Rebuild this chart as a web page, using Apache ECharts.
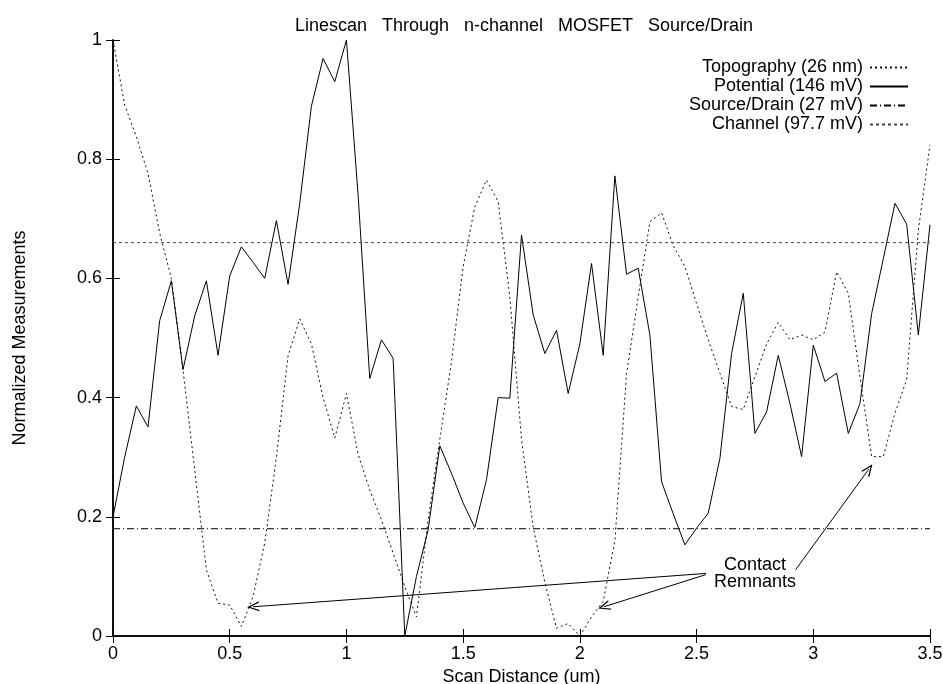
<!DOCTYPE html>
<html lang="en">

<head>
    <meta charset="UTF-8">
    <title>Linescan Through n-channel MOSFET Source/Drain</title>
    <style>
        html, body {
            margin: 0;
            padding: 0;
            background: #ffffff;
        }

        #chart {
            width: 943px;
            height: 684px;
        }
    </style>
</head>

<body>
    <div id="chart"></div>
    <script src="https://cdn.jsdelivr.net/npm/echarts@6/dist/echarts.min.js"></script>
    <script>
        // scan step is 0.05 um, 71 samples from 0 to 3.5
        const scanStep = 0.05;

        const topography = [
            1.0, 0.891, 0.838, 0.776, 0.676, 0.60, 0.446, 0.279, 0.111, 0.055,
            0.052, 0.016, 0.066, 0.156, 0.30, 0.47, 0.532, 0.49, 0.40, 0.332,
            0.407, 0.305, 0.245, 0.195, 0.139, 0.083, 0.032, 0.195, 0.33, 0.46,
            0.62, 0.72, 0.765, 0.729, 0.569, 0.33, 0.183, 0.09, 0.013, 0.021,
            0.0, 0.032, 0.058, 0.16, 0.44, 0.569, 0.695, 0.71, 0.655, 0.62,
            0.558, 0.497, 0.441, 0.385, 0.38, 0.435, 0.49, 0.526, 0.497, 0.505,
            0.497, 0.51, 0.611, 0.575, 0.435, 0.301, 0.301, 0.374, 0.43, 0.681,
            0.824
        ];

        const potential = [
            0.20, 0.30, 0.386, 0.351, 0.529, 0.596, 0.447, 0.537, 0.596, 0.471,
            0.604, 0.653, 0.627, 0.60, 0.697, 0.59, 0.726, 0.889, 0.969, 0.93,
            1.0, 0.74, 0.432, 0.497, 0.466, 0.0, 0.1, 0.178, 0.319, 0.273,
            0.223, 0.182, 0.262, 0.40, 0.399, 0.673, 0.539, 0.474, 0.513, 0.407,
            0.49, 0.625, 0.471, 0.772, 0.607, 0.617, 0.505, 0.259, 0.205, 0.153,
            0.181, 0.206, 0.298, 0.474, 0.575, 0.34, 0.376, 0.471, 0.39, 0.301,
            0.488, 0.427, 0.441, 0.34, 0.39, 0.541, 0.633, 0.726, 0.691, 0.505,
            0.69
        ];

        const sourceDrainLevel = 0.18;
        const channelLevel = 0.66;

        const seriesNames = [
            'Topography (26 nm)',
            'Potential (146 mV)',
            'Source/Drain (27 mV)',
            'Channel (97.7 mV)'
        ];

        const xTicks = [0, 0.5, 1, 1.5, 2, 2.5, 3, 3.5];
        const yTicks = [0, 0.2, 0.4, 0.6, 0.8, 1];

        // arrows: [tail, head]
        const arrows = [
            [[2.54, 0.105], [0.60, 0.049]],
            [[2.54, 0.103], [2.103, 0.049]],
            [[2.924, 0.111], [3.238, 0.28]]
        ];
        const noteAt = [2.75, 0.104];
        const noteText = 'Contact\nRemnants';

        function pairs(values) {
            return values.map(function (v, i) {
                return [+(i * scanStep).toFixed(2), v];
            });
        }

        const chart = echarts.init(document.getElementById('chart'));
        const fontFamily = '"Liberation Sans", Arial, sans-serif';
        const fontSize = 18;
        const arrowHead = 'path://M0,10 L5,0 L10,10 L8.6,10 L5,2.6 L1.4,10 Z';

        const option = {
            animation: false,
            backgroundColor: '#ffffff',
            title: {
                text: 'Linescan   Through   n-channel   MOSFET   Source/Drain',
                left: 519,
                textAlign: 'center',
                top: 12,
                textStyle: {
                    fontFamily: fontFamily,
                    fontSize: fontSize,
                    fontWeight: 'normal',
                    color: '#000'
                }
            },
            legend: {
                orient: 'vertical',
                right: 29,
                top: 53,
                align: 'right',
                itemWidth: 38,
                itemHeight: 14,
                itemGap: 0,
                data: seriesNames,
                itemStyle: { opacity: 0 },
                textStyle: {
                    fontFamily: fontFamily,
                    fontSize: fontSize,
                    lineHeight: 19,
                    color: '#000',
                    width: 200,
                    align: 'right',
                    padding: [0, 2, 0, 0]
                }
            },
            grid: {
                left: 113,
                right: 13,
                top: 40,
                bottom: 48,
                outerBoundsMode: 'none',
                containLabel: false
            },
            xAxis: [{
                type: 'value',
                min: 0,
                max: 3.5,
                interval: 0.5,
                name: 'Scan Distance (um)',
                nameLocation: 'middle',
                nameGap: 31,
                nameTextStyle: { fontFamily: fontFamily, fontSize: fontSize, color: '#000' },
                axisLine: { lineStyle: { color: '#000', width: 1.5 } },
                axisTick: { inside: true, length: 7, lineStyle: { color: '#000' } },
                axisLabel: {
                    fontFamily: fontFamily,
                    fontSize: fontSize,
                    color: '#000',
                    margin: 9,
                    formatter: function (v) { return xTicks.indexOf(v) >= 0 ? String(v) : ''; }
                },
                splitLine: { show: false }
            }, {
                type: 'value',
                position: 'top',
                min: 0,
                max: 3.5,
                interval: 0.5,
                axisLine: { lineStyle: { color: '#000', width: 1.5 } },
                axisTick: { inside: true, length: 7, lineStyle: { color: '#000' } },
                axisLabel: { show: false },
                splitLine: { show: false }
            }],
            yAxis: [{
                type: 'value',
                min: 0,
                max: 1,
                interval: 0.2,
                name: 'Normalized Measurements',
                nameLocation: 'middle',
                nameGap: 84,
                nameTextStyle: { fontFamily: fontFamily, fontSize: fontSize, color: '#000' },
                axisLine: { show: true, lineStyle: { color: '#000', width: 1.5 } },
                axisTick: { show: true, inside: true, length: 7, lineStyle: { color: '#000' } },
                axisLabel: {
                    fontFamily: fontFamily,
                    fontSize: fontSize,
                    color: '#000',
                    margin: 11,
                    formatter: function (v) {
                        const t = yTicks.find(function (k) { return Math.abs(k - v) < 1e-9; });
                        return t === undefined ? '' : String(t);
                    }
                },
                splitLine: { show: false }
            }, {
                type: 'value',
                position: 'right',
                min: 0,
                max: 1,
                interval: 0.2,
                axisLine: { show: true, lineStyle: { color: '#000', width: 1.5 } },
                axisTick: { show: true, inside: true, length: 7, lineStyle: { color: '#000' } },
                axisLabel: { show: false },
                splitLine: { show: false }
            }],
            series: [{
                name: seriesNames[0],
                type: 'line',
                symbol: 'none',
                data: pairs(topography),
                lineStyle: { color: '#111', width: 1, type: [2, 3] },
                itemStyle: { color: '#111' }
            }, {
                name: seriesNames[1],
                type: 'line',
                symbol: 'none',
                data: pairs(potential),
                lineStyle: { color: '#000', width: 1 },
                itemStyle: { color: '#000' },
                markLine: {
                    silent: true,
                    symbol: ['none', arrowHead],
                    symbolSize: [10, 12],
                    label: { show: false },
                    lineStyle: { color: '#000', width: 1, type: 'solid' },
                    data: arrows.map(function (a) {
                        return [{ coord: a[0] }, { coord: a[1] }];
                    })
                },
                markPoint: {
                    silent: true,
                    symbolSize: 0,
                    data: [{ coord: noteAt }],
                    label: {
                        show: true,
                        position: 'inside',
                        formatter: noteText,
                        fontFamily: fontFamily,
                        fontSize: fontSize,
                        lineHeight: 17,
                        color: '#000'
                    }
                }
            }, {
                name: seriesNames[2],
                type: 'line',
                symbol: 'none',
                data: [[0, sourceDrainLevel], [3.5, sourceDrainLevel]],
                lineStyle: { color: '#000', width: 1, type: [7, 3, 1, 3] },
                itemStyle: { color: '#000' }
            }, {
                name: seriesNames[3],
                type: 'line',
                symbol: 'none',
                data: [[0, channelLevel], [3.5, channelLevel]],
                lineStyle: { color: '#444', width: 1, type: [3, 3] },
                itemStyle: { color: '#444' }
            }]
        };

        chart.setOption(option);
    </script>
</body>

</html>
